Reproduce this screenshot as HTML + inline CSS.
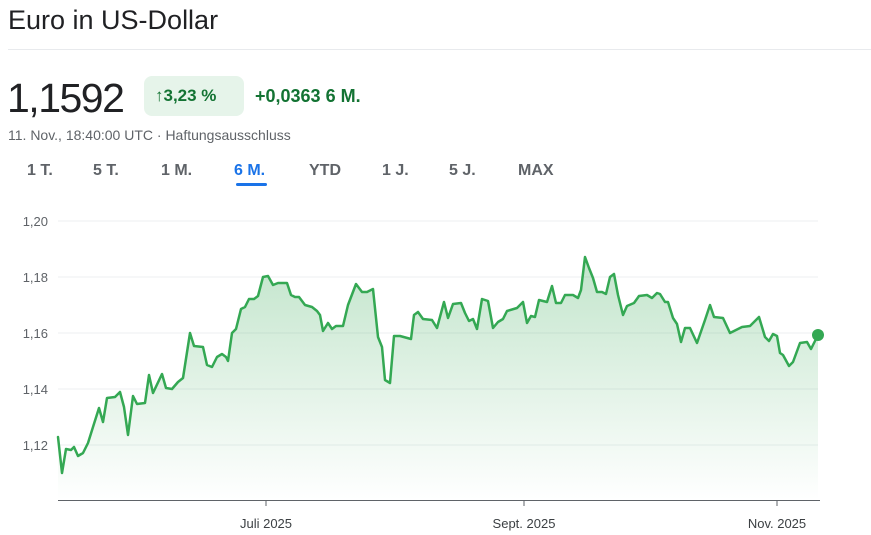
<!DOCTYPE html>
<html><head><meta charset="utf-8"><style>
body{margin:0;width:871px;height:535px;background:#fff;font-family:"Liberation Sans",Arial,sans-serif;position:relative;overflow:hidden}
.a{position:absolute;white-space:nowrap}
.tab{position:absolute;top:162px;font-size:16px;color:#5f6368;font-weight:bold}
</style></head><body>
<div class="a" style="left:8px;top:5px;font-size:27px;color:#202124">Euro in US-Dollar</div>
<div class="a" style="left:8px;top:49px;width:863px;height:1px;background:#e8eaed"></div>
<div class="a" style="left:7px;top:75px;font-size:41px;color:#202124;letter-spacing:-1.5px">1,1592</div>
<div class="a" style="left:144px;top:76px;width:100px;height:40px;background:#e6f4ea;border-radius:8px"></div>
<div class="a" style="left:155px;top:86px;font-size:17px;color:#137333;font-weight:bold">↑3,23 %</div>
<div class="a" style="left:255px;top:86px;font-size:18px;color:#137333;font-weight:bold">+0,0363 6 M.</div>
<div class="a" style="left:8px;top:127px;font-size:14px;color:#5f6368">11. Nov., 18:40:00 UTC · Haftungsausschluss</div>
<div class="tab" style="left:27px">1 T.</div>
<div class="tab" style="left:93px">5 T.</div>
<div class="tab" style="left:161px">1 M.</div>
<div class="tab" style="left:234px;color:#1a73e8">6 M.</div>
<div class="tab" style="left:309px">YTD</div>
<div class="tab" style="left:382px">1 J.</div>
<div class="tab" style="left:449px">5 J.</div>
<div class="tab" style="left:518px">MAX</div>
<div class="a" style="left:236px;top:183px;width:31px;height:3px;background:#1a73e8;border-radius:2px"></div>
<svg class="a" style="left:0;top:0" width="871" height="535">
<defs><linearGradient id="g" x1="0" y1="0" x2="0" y2="1"><stop offset="0" stop-color="#34a853" stop-opacity="0.3"/><stop offset="1" stop-color="#34a853" stop-opacity="0"/></linearGradient></defs>
<g stroke="#eceff1" stroke-width="1">
<line x1="58" x2="818" y1="221" y2="221"/><line x1="58" x2="818" y1="277" y2="277"/><line x1="58" x2="818" y1="333" y2="333"/><line x1="58" x2="818" y1="389" y2="389"/><line x1="58" x2="818" y1="445" y2="445"/>
</g>
<g font-size="13" fill="#5f6368" text-anchor="end" font-family="Liberation Sans, sans-serif">
<text x="48" y="226">1,20</text><text x="48" y="282">1,18</text><text x="48" y="338">1,16</text><text x="48" y="394">1,14</text><text x="48" y="450">1,12</text>
</g>
<line x1="58" x2="820" y1="500.5" y2="500.5" stroke="#5f6368" stroke-width="1"/>
<g stroke="#5f6368"><line x1="266" x2="266" y1="500" y2="506"/><line x1="524" x2="524" y1="500" y2="506"/><line x1="777" x2="777" y1="500" y2="506"/></g>
<g font-size="13" fill="#3c4043" text-anchor="middle" font-family="Liberation Sans, sans-serif">
<text x="266" y="528">Juli 2025</text><text x="524" y="528">Sept. 2025</text><text x="777" y="528">Nov. 2025</text>
</g>
<path d="M58,437 L62,473 L66,449 L71,450 L74,447 L78,456 L83,453 L88,443 L93,427 L99,408 L103,422 L107,398 L115,397 L120,392 L124,407 L128,435 L133,396 L137,404 L145,403 L149,375 L153,393 L162,374 L166,388 L172,389 L178,382 L183,378 L190,333 L194,346 L203,347 L207,365 L212,367 L217,357 L222,354 L226,357 L228,361 L232,333 L236,329 L241,309 L245,307 L249,299 L254,299 L258,296 L263,277 L268,276 L273,285 L278,283 L287,283 L291,295 L295,297 L299,297 L305,305 L312,307 L317,311 L320,315 L323,331 L328,323 L332,329 L336,326 L343,326 L348,305 L356,284 L362,292 L367,292 L373,289 L378,337 L382,347 L385,380 L390,383 L394,336 L400,336 L411,339 L414,315 L418,312 L423,319 L432,320 L437,328 L444,302 L448,318 L453,304 L461,303 L465,313 L469,321 L473,319 L477,329 L482,299 L488,301 L493,328 L498,322 L503,319 L507,311 L517,308 L523,302 L527,323 L531,316 L535,317 L539,300 L547,302 L552,286 L556,303 L561,303 L565,295 L573,295 L578,298 L581,290 L585,257 L589,268 L593,278 L597,292 L602,292 L606,294 L610,277 L614,274 L618,295 L623,315 L627,306 L634,303 L639,296 L647,295 L652,298 L657,293 L660,294 L665,302 L668,302 L673,318 L677,324 L681,342 L685,328 L690,328 L697,343 L705,320 L710,305 L714,317 L723,318 L730,333 L742,327 L750,326 L759,317 L765,337 L769,341 L773,334 L777,336 L780,353 L783,355 L789,366 L793,362 L800,343 L807,342 L811,349 L818,335 L818,500 L58,500 Z" fill="url(#g)"/>
<path d="M58,437 L62,473 L66,449 L71,450 L74,447 L78,456 L83,453 L88,443 L93,427 L99,408 L103,422 L107,398 L115,397 L120,392 L124,407 L128,435 L133,396 L137,404 L145,403 L149,375 L153,393 L162,374 L166,388 L172,389 L178,382 L183,378 L190,333 L194,346 L203,347 L207,365 L212,367 L217,357 L222,354 L226,357 L228,361 L232,333 L236,329 L241,309 L245,307 L249,299 L254,299 L258,296 L263,277 L268,276 L273,285 L278,283 L287,283 L291,295 L295,297 L299,297 L305,305 L312,307 L317,311 L320,315 L323,331 L328,323 L332,329 L336,326 L343,326 L348,305 L356,284 L362,292 L367,292 L373,289 L378,337 L382,347 L385,380 L390,383 L394,336 L400,336 L411,339 L414,315 L418,312 L423,319 L432,320 L437,328 L444,302 L448,318 L453,304 L461,303 L465,313 L469,321 L473,319 L477,329 L482,299 L488,301 L493,328 L498,322 L503,319 L507,311 L517,308 L523,302 L527,323 L531,316 L535,317 L539,300 L547,302 L552,286 L556,303 L561,303 L565,295 L573,295 L578,298 L581,290 L585,257 L589,268 L593,278 L597,292 L602,292 L606,294 L610,277 L614,274 L618,295 L623,315 L627,306 L634,303 L639,296 L647,295 L652,298 L657,293 L660,294 L665,302 L668,302 L673,318 L677,324 L681,342 L685,328 L690,328 L697,343 L705,320 L710,305 L714,317 L723,318 L730,333 L742,327 L750,326 L759,317 L765,337 L769,341 L773,334 L777,336 L780,353 L783,355 L789,366 L793,362 L800,343 L807,342 L811,349 L818,335" fill="none" stroke="#34a853" stroke-width="2.5" stroke-linejoin="round" stroke-linecap="round"/>
<circle cx="818" cy="335" r="6" fill="#34a853"/>
</svg>
</body></html>
